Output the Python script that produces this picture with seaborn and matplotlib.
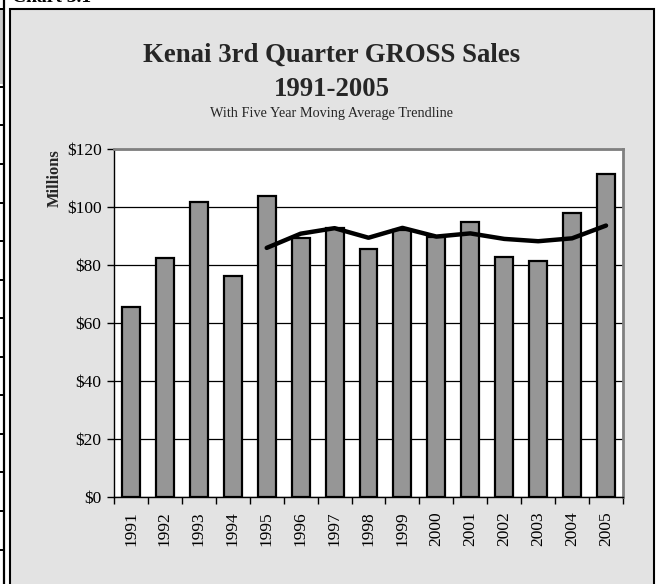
import matplotlib
matplotlib.use("Agg")
import matplotlib.pyplot as plt
import matplotlib.patches as mpatches
import matplotlib.lines as mlines
from matplotlib.ticker import FixedLocator, FuncFormatter
import seaborn as sns
import pandas as pd

# ---- data ----
years = ["1991", "1992", "1993", "1994", "1995", "1996", "1997", "1998",
         "1999", "2000", "2001", "2002", "2003", "2004", "2005"]
sales = [65.5, 82.4, 101.7, 76.2, 103.9, 89.3, 92.8, 85.4,
         92.0, 89.8, 94.9, 82.6, 81.5, 98.0, 111.4]
ma_years = ["1995", "1996", "1997", "1998", "1999", "2000",
            "2001", "2002", "2003", "2004", "2005"]
ma_values = [85.9, 90.8, 92.7, 89.4, 92.8, 89.8, 90.9, 89.0, 88.2, 89.2, 93.6]
y_ticks = [0, 20, 40, 60, 80, 100, 120]

title1 = "Kenai 3rd Quarter GROSS Sales"
title2 = "1991-2005"
subtitle = "With Five Year Moving Average Trendline"

sns.set_theme(style="white")
plt.rcParams["font.family"] = ["Liberation Serif", "DejaVu Serif"]

W, H = 659, 584
fig = plt.figure(figsize=(W / 100, H / 100), dpi=100)
fig.patch.set_facecolor("white")

def fx(px):
    return px / W

def fy(py):
    return 1 - py / H

# chart frame
frame = mpatches.Rectangle((fx(9.5), fy(590)), fx(654) - fx(9.5), fy(9) - fy(590),
                           transform=fig.transFigure, facecolor="#E3E3E3",
                           edgecolor="black", linewidth=1.5, zorder=0)
fig.add_artist(frame)

# left page decorations (table edge)
fig.add_artist(mpatches.Rectangle((fx(0), fy(84)), fx(3.5), fy(9) - fy(84),
                                  transform=fig.transFigure, facecolor="#C8C8C8",
                                  edgecolor="none", zorder=0))
fig.add_artist(mlines.Line2D([fx(4), fx(4)], [0, 1], transform=fig.transFigure,
                             color="black", linewidth=1.6))
for yy in [9, 87, 125, 164, 203, 241, 280, 318, 357, 395, 434, 472, 511, 550]:
    fig.add_artist(mlines.Line2D([0, fx(4)], [fy(yy), fy(yy)], transform=fig.transFigure,
                                 color="black", linewidth=1.4))

# "Chart 3.1" cut off at top (as in the reference)
fig.text(fx(12), fy(2.5), "Chart 3.1", fontsize=14, fontweight="bold",
         ha="left", va="baseline", color="black")

# titles
cx = fx(331.5)
fig.text(cx, fy(62), title1, fontsize=19.3, fontweight="bold", ha="center", va="baseline")
fig.text(cx, fy(96), title2, fontsize=19.3, fontweight="bold", ha="center", va="baseline")
fig.text(cx, fy(117), subtitle, fontsize=10.3, ha="center", va="baseline")

# axes
ax = fig.add_axes([fx(114), fy(497), fx(623) - fx(114), fy(149) - fy(497)])
ax.set_facecolor("white")

df = pd.DataFrame({"year": years, "sales": sales})
sns.barplot(data=df, x="year", y="sales", order=years, color="#969696",
            saturation=1, edgecolor="black", linewidth=1.6, width=0.53, ax=ax, zorder=3)

pos = {y: i for i, y in enumerate(years)}
ma_df = pd.DataFrame({"x": [pos[y] for y in ma_years], "ma": ma_values})
sns.lineplot(data=ma_df, x="x", y="ma", color="black", linewidth=3.2, ax=ax, zorder=5,
             solid_capstyle="round", solid_joinstyle="round")

ax.set_xlim(-0.5, len(years) - 0.5)
ax.set_ylim(0, 120)
ax.yaxis.set_major_locator(FixedLocator(y_ticks))
ax.yaxis.set_major_formatter(FuncFormatter(lambda v, p: f"${int(v)}"))
ax.grid(axis="y", color="black", linewidth=0.9)
ax.set_axisbelow(True)

ax.set_xticks(range(len(years)))
ax.set_xticklabels(years, rotation=90)
ax.set_xticks([i - 0.5 for i in range(len(years) + 1)], minor=True)
ax.tick_params(axis="x", which="major", length=0, pad=10, labelsize=12.5, colors="black")
ax.tick_params(axis="x", which="minor", length=5, width=1, direction="out", color="black",
               bottom=True)
ax.tick_params(axis="y", which="major", length=5, width=1, direction="out", color="black",
               left=True, labelsize=12.5, pad=4)
for lab in ax.get_xticklabels() + ax.get_yticklabels():
    lab.set_color("black")

ax.set_xlabel("")
ax.set_ylabel("")
for side in ["top", "right"]:
    ax.spines[side].set_color("#808080")
    ax.spines[side].set_linewidth(2)
for side in ["left", "bottom"]:
    ax.spines[side].set_color("black")
    ax.spines[side].set_linewidth(1)

fig.text(fx(55), fy(178), "Millions", fontsize=11.8, fontweight="bold", rotation=90,
         ha="center", va="center")

fig.savefig("out.png", dpi=100)
